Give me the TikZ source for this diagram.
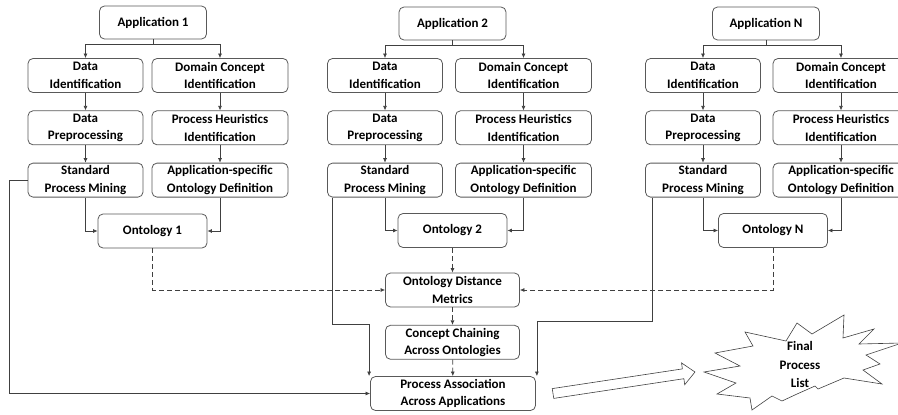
\documentclass[tikz,border=0pt]{standalone}
\usepackage{fontspec}
\setmainfont{Carlito}
\usetikzlibrary{arrows.meta,positioning}

\begin{document}
\begin{tikzpicture}[
    x=1pt, y=-1pt,
    node distance=17.5pt,
    >={Latex[length=4.5pt,width=4pt]},
    every node/.style={align=center, font=\fontsize{13}{17.5}\selectfont\bfseries}
]
\useasboundingbox (0,0) rectangle (898,415);

% Define styles
\tikzstyle{block} = [rectangle, draw=black!65, line width=0.8pt,
    rounded corners=5pt, inner sep=0pt, minimum height=34pt]
\tikzstyle{app} = [block, minimum height=33pt, minimum width=107pt]
\tikzstyle{datab} = [block, minimum width=115pt]
\tikzstyle{dom} = [block, minimum width=136pt]
\tikzstyle{onto} = [block, minimum width=109pt]
\tikzstyle{line} = [draw=black!75, line width=0.7pt, ->]
\tikzstyle{dline} = [line, dash pattern=on 5pt off 3pt]

% Application 1
\node [app] (app1) at (153,22.5) {Application 1};
\node [datab] (did1) at (85.5,75.5) {Data\\Identification};
\node [datab, below=of did1] (dpre1) {Data\\Preprocessing};
\node [datab, below=of dpre1] (spm1) {Standard\\Process Mining};
\node [dom] (dci1) at (220,75.5) {Domain Concept\\Identification};
\node [dom, below=of dci1] (phi1) {Process Heuristics\\Identification};
\node [dom, below=of phi1] (aod1) {Application-specific\\Ontology Definition};
\node [onto] (ont1) at (152.5,231) {Ontology 1};

% Application 2
\node [app] (app2) at (452.5,23.5) {Application 2};
\node [datab] (did2) at (385,75.5) {Data\\Identification};
\node [datab, below=of did2] (dpre2) {Data\\Preprocessing};
\node [datab, below=of dpre2] (spm2) {Standard\\Process Mining};
\node [dom] (dci2) at (523.5,75.5) {Domain Concept\\Identification};
\node [dom, below=of dci2] (phi2) {Process Heuristics\\Identification};
\node [dom, below=of phi2] (aod2) {Application-specific\\Ontology Definition};
\node [onto] (ont2) at (452.5,230.5) {Ontology 2};

% Application N
\node [app] (appN) at (766,23.5) {Application N};
\node [datab] (didN) at (703,75.5) {Data\\Identification};
\node [datab, below=of didN] (dpreN) {Data\\Preprocessing};
\node [datab, below=of dpreN] (spmN) {Standard\\Process Mining};
\node [dom] (dciN) at (841,75.5) {Domain Concept\\Identification};
\node [dom, below=of dciN] (phiN) {Process Heuristics\\Identification};
\node [dom, below=of phiN] (aodN) {Application-specific\\Ontology Definition};
\node [onto] (ontN) at (773,230.5) {Ontology N};

% Shared steps
\node [block, minimum width=134pt] (odm) at (452.5,290) {Ontology Distance\\Metrics};
\node [block, minimum width=134pt, below=of odm] (ccao) {Concept Chaining\\Across Ontologies};
\node [block, minimum width=165pt] (paaa) at (453,393.5) {Process Association\\Across Applications};

% Result: hollow arrow and star
\draw [black!75, line width=0.6pt] (552.25,388.6) -- (682.4,368.9) -- (681.5,362.9)
    -- (695,372) -- (684.7,384.7) -- (683.9,378.7) -- (553.75,398.4) -- cycle;
\draw [black!75, line width=0.6pt] (704,372) -- (740,366) -- (715,353) -- (753,346)
    -- (745,332) -- (786,341) -- (797,323) -- (812,334) -- (844,315) -- (843,338)
    -- (874,329) -- (859,344) -- (902,343) -- (866,355) -- (880,364) -- (863,370)
    -- (882,384) -- (844,378) -- (818,389) -- (815,386) -- (797,394) -- (782,401)
    -- (772,396) -- (752,410) -- (750,398) -- (717,394) -- (736,383) -- cycle;
\node [font=\fontsize{13}{18.5}\selectfont\bfseries] (final) at (800,364.5) {Final\\Process\\List};

% Paths inside each application
\foreach \i in {1,2,N} {
    \path [line] (app\i.south) -- ++(0,5) -| (did\i.north);
    \path [line] (app\i.south) -- ++(0,5) -| (dci\i.north);
    \path [line] (did\i) -- (dpre\i);
    \path [line] (dpre\i) -- (spm\i);
    \path [line] (dci\i) -- (phi\i);
    \path [line] (phi\i) -- (aod\i);
    \path [line] (spm\i.south) |- (ont\i.west);
    \path [line] (aod\i.south) |- (ont\i.east);
}

% Ontologies into the shared steps
\path [dline] (ont1.south) |- (odm.west);
\path [dline] (ontN.south) |- (odm.east);
\path [dline] (ont2) -- (odm);
\path [dline] (odm) -- (ccao);
\path [dline] (ccao) -- (paaa);

% Mined processes into the association
\path [line] (spm1.west) -- ++(-18,0) |- (paaa.west);
\path [line] ([xshift=5pt]spm2.south west) -- ++(0,127) -| ([xshift=-1pt]paaa.north west);
\path [line] ([xshift=7pt]spmN.south west) -- ++(0,124) -| ([xshift=1pt]paaa.north east);

\end{tikzpicture}
\end{document}
